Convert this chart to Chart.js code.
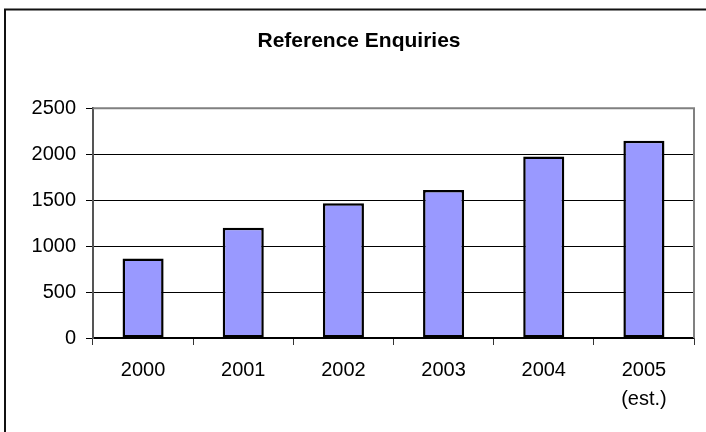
<!DOCTYPE html>
<html>
<head>
<meta charset="utf-8">
<title>Reference Enquiries</title>
<script src="https://cdn.jsdelivr.net/npm/chart.js@4/dist/chart.umd.min.js"></script>
<style>
  html, body { margin: 0; padding: 0; background: #fff; }
  #wrap { width: 706px; height: 432px; position: relative; }
</style>
</head>
<body>
<div id="wrap"><canvas id="chart"></canvas></div>
<script>
// ─── DATA ────────────────────────────────────────────
const years     = ['2000', '2001', '2002', '2003', '2004', ['2005', '(est.)']];
const enquiries = [865, 1200, 1465, 1610, 1975, 2145];
const yTicks    = [0, 500, 1000, 1500, 2000, 2500];

const FONT = '"Liberation Sans", Arial, sans-serif';

// frame round the whole chart plus the grey plot-area edges
const framePlugin = {
  id: 'frame',
  afterDatasetsDraw(chart) {
    const { ctx, chartArea: a } = chart;
    ctx.save();
    ctx.strokeStyle = '#808080';
    ctx.lineWidth = 2;
    ctx.beginPath();
    ctx.moveTo(a.left, a.top);
    ctx.lineTo(a.right, a.top);
    ctx.lineTo(a.right, a.bottom);
    ctx.stroke();
    ctx.restore();
  },
  afterDraw(chart) {
    const ctx = chart.ctx;
    ctx.save();
    ctx.strokeStyle = '#111';
    ctx.lineWidth = 2;
    ctx.strokeRect(5, 9.5, 900, 900);
    ctx.restore();
  },
};

new Chart(document.getElementById('chart'), {
  type: 'bar',
  data: {
    labels: years,
    datasets: [{
      label: 'Reference Enquiries',
      data: enquiries,
      backgroundColor: '#9999ff',
      borderColor: '#000',
      borderWidth: 2.5,
      borderSkipped: false,
      barPercentage: 0.41,
      categoryPercentage: 1,
    }],
  },
  options: {
    responsive: true,
    maintainAspectRatio: false,
    animation: false,
    layout: { padding: { left: 24, right: 12, top: 0, bottom: 0 } },
    plugins: {
      legend: { display: false },
      tooltip: { enabled: false },
      title: {
        display: true,
        text: 'Reference Enquiries',
        color: '#000',
        font: { family: FONT, size: 21, weight: 'bold' },
        padding: { top: 29, bottom: 54 },
      },
    },
    scales: {
      x: {
        grid: {
          offset: true,
          drawOnChartArea: false,
          drawTicks: true,
          tickLength: 7,
          color: '#333',
        },
        border: { display: true, color: '#000', width: 1.5 },
        ticks: {
          color: '#000',
          font: { family: FONT, size: 20, lineHeight: 1.45 },
          padding: 11,
          maxRotation: 0,
        },
        afterFit(s) { s.height = 94; },
      },
      y: {
        min: 0,
        max: 2500,
        afterBuildTicks(s) { s.ticks = yTicks.map(v => ({ value: v })); },
        grid: {
          color: '#000',
          lineWidth: 1,
          drawTicks: true,
          tickLength: 7,
        },
        border: { display: true, color: '#555', width: 2 },
        ticks: {
          color: '#000',
          font: { family: FONT, size: 20 },
          padding: 10,
          callback: v => String(v),
        },
        afterFit(s) { s.width = 69; },
      },
    },
  },
  plugins: [framePlugin],
});
</script>
</body>
</html>
